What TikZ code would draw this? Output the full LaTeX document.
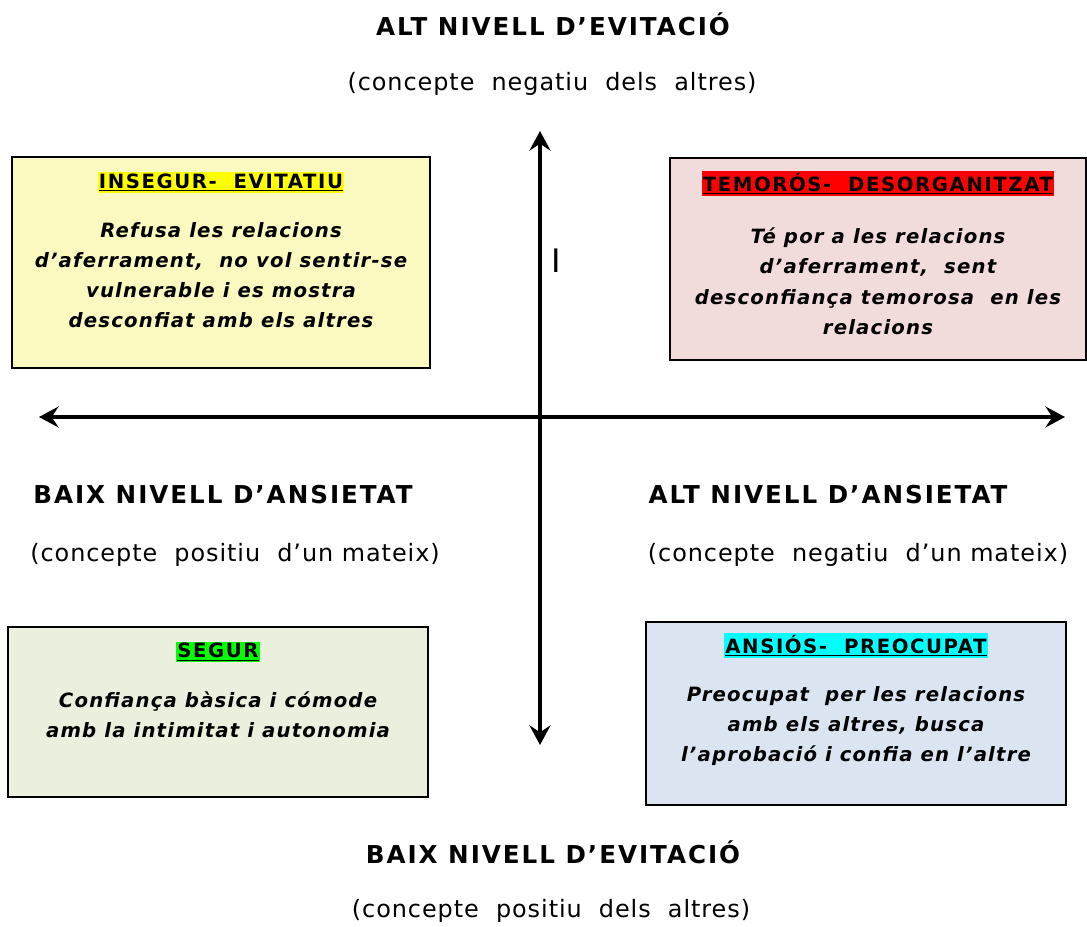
\documentclass[tikz,border=0pt]{standalone}
\usepackage{fontspec}
\setmainfont{DejaVu Sans}
\usetikzlibrary{arrows.meta,positioning}
\definecolor{fonsgroc}{RGB}{250,250,192}
\definecolor{fonsrosa}{RGB}{242,220,219}
\definecolor{fonsverd}{RGB}{235,240,222}
\definecolor{fonsblau}{RGB}{219,229,241}
\definecolor{marcgroc}{RGB}{255,255,0}
\definecolor{marcvermell}{RGB}{255,0,0}
\definecolor{marcverd}{RGB}{0,255,0}
\definecolor{marccian}{RGB}{0,255,255}
\newcommand{\marcat}[2]{{\setlength{\fboxsep}{1pt}\colorbox{#1}{\underline{#2}}}}
\tikzset{
    %Define standard arrow tip
    >={Stealth[length=14pt,width=15pt,inset=5pt]},
    %Define style for the four boxes
    quadre/.style={
           rectangle,
           draw=black, line width=1.3pt,
           inner sep=0pt},
    titol/.style={
           font=\bfseries\fontsize{14}{16}\selectfont\addfontfeatures{LetterSpace=8},
           inner sep=0pt},
    cos/.style={
           font=\bfseries\itshape\fontsize{14}{21.4}\selectfont\addfontfeatures{LetterSpace=6},
           align=center,
           inner sep=0pt},
    % Define axis labels
    nivell/.style={
           font=\bfseries\fontsize{17.5}{20}\selectfont\addfontfeatures{LetterSpace=8}},
    concepte/.style={
           font=\fontsize{17}{20}\selectfont\addfontfeatures{LetterSpace=4}},
    % Define arrow style
    eix/.style={
           <->,
           line width=2.4pt}
}
\begin{document}
\begin{tikzpicture}[x=0.025cm,y=-0.025cm]
\useasboundingbox (0,0) rectangle (1087,927);
 %boxes
\node[quadre, fill=fonsgroc, minimum width=10.45cm, minimum height=5.275cm] (evitatiu) at (221,262.5) {};
\node[quadre, fill=fonsrosa, minimum width=10.4cm, minimum height=5.05cm] (desorg) at (878,259) {};
\node[quadre, fill=fonsverd, minimum width=10.5cm, minimum height=4.25cm] (segur) at (218,712) {};
\node[quadre, fill=fonsblau, minimum width=10.5cm, minimum height=4.575cm] (ansios) at (856,713.5) {};

 %titles
\node[titol, below=0.4cm of evitatiu.north] (t1) {\marcat{marcgroc}{INSEGUR-\ \ EVITATIU}};
\node[titol, below=0.35cm of desorg.north] (t2) {\marcat{marcvermell}{TEMORÓS-\ \ DESORGANITZAT}};
\node[titol, below=0.38cm of segur.north] (t3) {\marcat{marcverd}{SEGUR}};
\node[titol, below=0.3cm of ansios.north] (t4) {\marcat{marccian}{ANSIÓS-\ \ PREOCUPAT}};

 %texts
\node[cos, below=0.72cm of t1] (c1) {Refusa\ les\ relacions\\d’aferrament,\ \ no vol sentir-se\\vulnerable\ i es mostra\\desconfiat\ amb\ els altres};
\node[cos, below=0.8cm of t2] (c2) {Té por a les relacions\\d’aferrament,\ \ sent\\desconfiança\ temorosa\ \ en les\\relacions};
\node[cos, below=0.72cm of t3] (c3) {Confiança\ bàsica i cómode\\amb\ la intimitat\ i autonomia};
\node[cos, below=0.7cm of t4] (c4) {Preocupat\ \ per les relacions\\amb\ els altres,\ busca\\l’aprobació\ i confia\ en l’altre};

 %axes
\coordinate (dalt) at (540,131);
\coordinate (baix) at (540,745);
\coordinate (esq) at (39,417);
\coordinate (dreta) at (1065,417);
\draw[eix] (dalt) -- (baix);
\draw[eix] (esq) -- (dreta);
\node[font=\fontsize{23}{26}\selectfont] (marca) at (556,261) {I};

 %axis labels
\node[nivell] (altev) at (553,24) {ALT NIVELL D’EVITACIÓ};
\node[concepte] (negalt) at (552,84) {(concepte\ \ negatiu\ \ dels\ \ altres)};
\node[nivell] (baixans) at (223,495) {BAIX NIVELL D’ANSIETAT};
\node[concepte] (posmat) at (235,555) {(concepte\ \ positiu\ \ d’un\ mateix)};
\node[nivell] (altans) at (828,495) {ALT NIVELL D’ANSIETAT};
\node[concepte] (negmat) at (858,555) {(concepte\ \ negatiu\ \ d’un\ mateix)};
\node[nivell] (baixev) at (553,852) {BAIX NIVELL D’EVITACIÓ};
\node[concepte] (posalt) at (551,911) {(concepte\ \ positiu\ \ dels\ \ altres)};
\end{tikzpicture}
\end{document}
